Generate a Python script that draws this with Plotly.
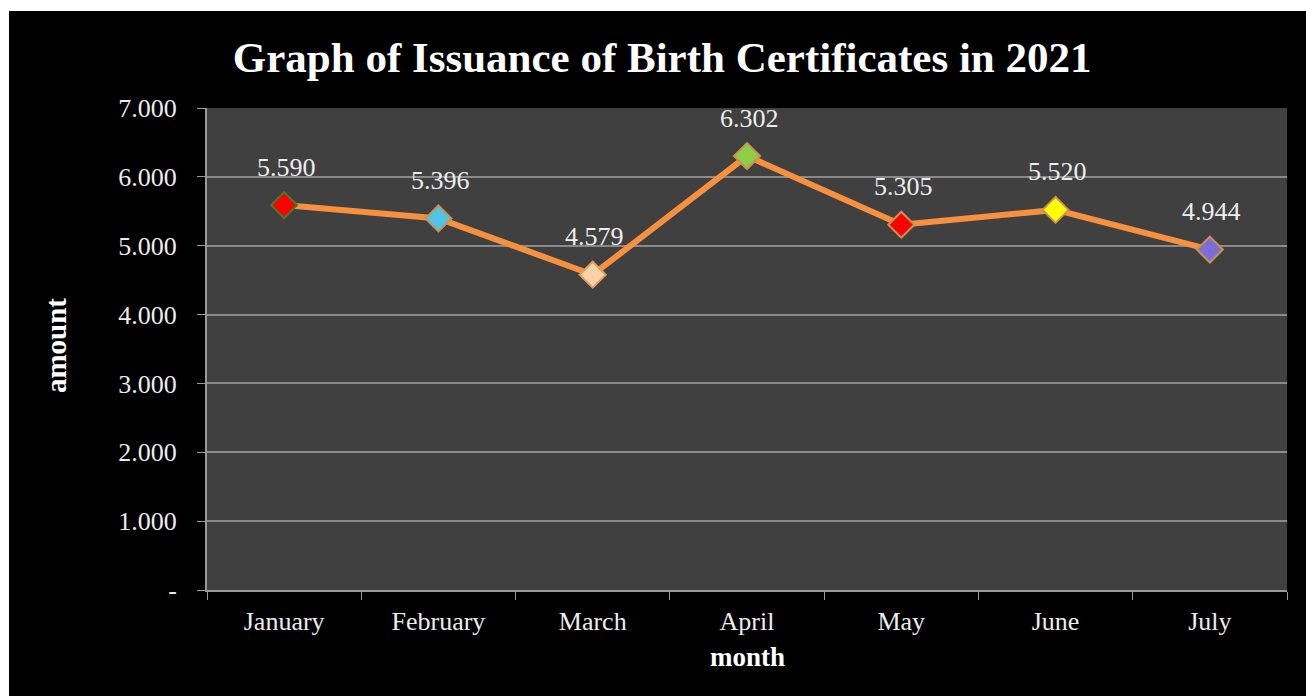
import plotly.graph_objects as go

months = ["January", "February", "March", "April", "May", "June", "July"]
amounts = [5590, 5396, 4579, 6302, 5305, 5520, 4944]
labels = ["5.590", "5.396", "4.579", "6.302", "5.305", "5.520", "4.944"]
marker_fills = ["#FF0000", "#4FC3E8", "#FCD3A8", "#8CCF45", "#FF0000", "#FFFF00", "#7A6FD6"]
marker_edges = ["#3E7F2A", "#C8944F", "#E0A060", "#C8944F", "#C8944F", "#C8944F", "#C8944F"]
y_tickvals = [0, 1000, 2000, 3000, 4000, 5000, 6000, 7000]
y_ticktext = ["-", "1.000", "2.000", "3.000", "4.000", "5.000", "6.000", "7.000"]

FONT = "Liberation Serif, Times New Roman, serif"
TXT = "#EDEDED"

fig = go.Figure()
fig.add_trace(go.Scatter(
    x=months, y=amounts, mode="lines+markers",
    line=dict(color="#F7913F", width=6),
    marker=dict(symbol="diamond", size=20, color=marker_fills,
                line=dict(color=marker_edges, width=2)),
    hoverinfo="x+y", showlegend=False,
))

for m, v, t in zip(months, amounts, labels):
    fig.add_annotation(x=m, y=v, text=t, showarrow=False, xshift=2, yshift=38,
                       yanchor="middle", font=dict(family=FONT, size=26, color=TXT))

fig.add_annotation(xref="paper", yref="paper", x=-0.1565, y=0.508, text="<b>amount</b>",
                   textangle=-90, showarrow=False, font=dict(family=FONT, size=29, color="#FFFFFF"))
fig.add_annotation(xref="paper", yref="paper", x=0.5, y=-0.139, text="<b>month</b>",
                   showarrow=False, yanchor="middle", font=dict(family=FONT, size=27, color="#FFFFFF"))

# white strips along top and left edges of the picture
fig.add_shape(type="rect", xref="paper", yref="paper", x0=-0.3, x1=(9 - 207) / 1080,
              y0=-0.5, y1=1.5, fillcolor="white", line=dict(width=0), layer="above")
fig.add_shape(type="rect", xref="paper", yref="paper", x0=-0.3, x1=1.3,
              y0=(590 - 11) / 482, y1=1.5, fillcolor="white", line=dict(width=0), layer="above")

fig.update_layout(
    width=1306, height=696,
    margin=dict(l=207, r=19, t=108, b=106),
    paper_bgcolor="#000000", plot_bgcolor="#404040",
    title=dict(text="<b>Graph of Issuance of Birth Certificates in 2021</b>",
               x=0.507, xanchor="center", y=1 - 57 / 696, yanchor="middle",
               font=dict(family=FONT, size=43, color="#FFFFFF")),
    xaxis=dict(type="category", tickson="boundaries", ticks="outside", ticklen=8,
               tickcolor="#9A9A9A", showgrid=False, showline=True, linecolor="#9A9A9A",
               linewidth=2, ticklabelstandoff=7,
               tickfont=dict(family=FONT, size=26, color=TXT), range=[-0.5, 6.5]),
    yaxis=dict(range=[0, 7000], tickvals=y_tickvals, ticktext=y_ticktext,
               ticks="outside", ticklen=8, tickcolor="#9A9A9A", showgrid=True,
               gridcolor="#8A8A8A", gridwidth=1.5, zeroline=False, showline=True,
               linecolor="#9A9A9A", linewidth=2, ticklabelstandoff=15,
               tickfont=dict(family=FONT, size=26, color=TXT)),
)

fig.write_html("out.html")
